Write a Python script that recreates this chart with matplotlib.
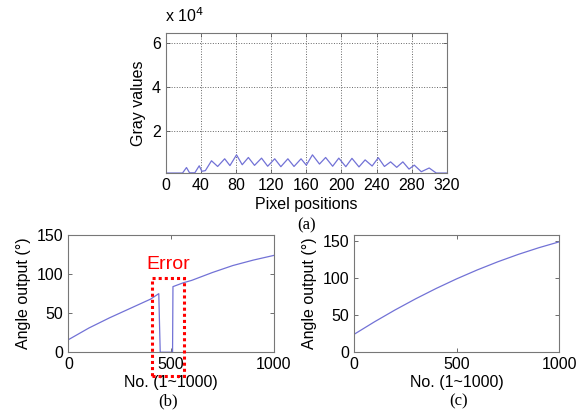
import matplotlib
matplotlib.use("Agg")
import matplotlib.pyplot as plt
from matplotlib.patches import Rectangle
from matplotlib.ticker import FuncFormatter

plt.rcParams['font.family'] = ['Liberation Sans', 'DejaVu Sans']

# (a) gray values along the pixel positions
pix_x = [0, 19, 23.5, 27, 33, 38, 41, 45, 52, 59, 67, 73, 80.5, 87, 94, 101,
         109, 116, 124, 131, 139, 146, 154, 160, 167, 175, 182, 190, 197, 205,
         212, 220, 227, 235, 242, 249, 256, 263, 270, 277, 283, 291, 300, 308, 320]
gray = [700, 700, 3200, 800, 800, 4000, 1500, 1800, 6300, 3700, 7200, 4100,
        9000, 4500, 7800, 4200, 7500, 3800, 7200, 3600, 7200, 3700, 7200, 4300,
        9000, 4800, 7800, 3800, 7500, 3600, 7400, 3500, 6700, 3900, 7700, 3700,
        5800, 3300, 5800, 2500, 4300, 1300, 3000, 700, 700]

# (b) angle output with error
no_b = [0, 100, 200, 300, 400, 440, 447, 507, 509, 560, 600, 700, 800, 900, 1000]
angle_b = [16, 31, 44, 56, 68, 75, 0, 0, 84, 89, 92, 102, 111, 118, 124]

# (c) angle output, corrected
no_c = [0, 100, 200, 300, 400, 500, 600, 700, 800, 900, 1000]
angle_c = [24, 41, 57, 72, 86, 99, 111, 122, 132, 141, 149]

line_col = '#7272d6'
fs = 11.5

fig = plt.figure(figsize=(5.84, 4.11), dpi=100)


def style(ax):
    ax.tick_params(direction='in', top=True, right=True, length=3,
                   labelsize=fs, width=0.6, color='#555555')
    for s in ax.spines.values():
        s.set_color('#777777')
        s.set_linewidth(0.8)


ax1 = fig.add_axes([0.284, 0.579, 0.481, 0.341])
ax1.plot(pix_x, gray, color=line_col, lw=0.9)
ax1.set_xlim(0, 320)
ax1.set_ylim(700, 64700)
ax1.set_xticks(range(0, 321, 40))
ax1.set_yticks([20000, 40000, 60000])
ax1.yaxis.set_major_formatter(FuncFormatter(lambda v, p: '%d' % round(v / 1e4)))
ax1.grid(True, ls=':', color='#666666', lw=0.7)
style(ax1)
ax1.set_xlabel('Pixel positions', fontsize=fs, labelpad=3)
ax1.set_ylabel('Gray values', fontsize=fs)
fig.text(165 / 584, 1 - 22 / 411, r'x 10$^{4}$', fontsize=fs, va='baseline')
fig.text(307 / 584, 1 - 229 / 411, '(a)', fontsize=12,
         family='Liberation Serif', ha='center')

ax2 = fig.add_axes([0.117, 0.143, 0.352, 0.285])
ax2.plot(no_b, angle_b, color=line_col, lw=0.9)
ax2.set_xlim(0, 1000)
ax2.set_ylim(0, 150)
ax2.set_xticks([0, 500, 1000])
ax2.set_yticks([0, 50, 100, 150])
style(ax2)
ax2.set_xlabel('No. (1~1000)', fontsize=fs, labelpad=2)
ax2.set_ylabel('Angle output (°)', fontsize=fs)
ax2.add_patch(Rectangle((405, -30), 160, 125, fill=False, ec='red',
                        ls=(0, (1, 1)), lw=2.2, clip_on=False, zorder=5))
ax2.text(484, 102, 'Error', color='red', fontsize=14, ha='center', va='bottom')
fig.text(168 / 584, 2 / 411, '(b)', fontsize=12,
         family='Liberation Serif', ha='center', va='bottom')

ax3 = fig.add_axes([0.606, 0.143, 0.352, 0.285])
ax3.plot(no_c, angle_c, color=line_col, lw=0.9)
ax3.set_xlim(0, 1000)
ax3.set_ylim(0, 158)
ax3.set_xticks([0, 500, 1000])
ax3.set_yticks([0, 50, 100, 150])
style(ax3)
ax3.set_xlabel('No. (1~1000)', fontsize=fs, labelpad=2)
ax3.set_ylabel('Angle output (°)', fontsize=fs)
fig.text(459 / 584, 2 / 411, '(c)', fontsize=12,
         family='Liberation Serif', ha='center', va='bottom')

fig.savefig('out.png', dpi=100)
